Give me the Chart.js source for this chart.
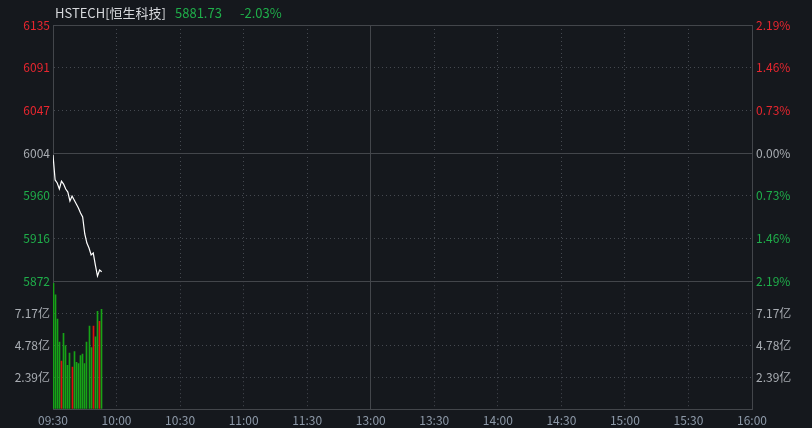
<!DOCTYPE html>
<html>
<head>
<meta charset="utf-8">
<script src="https://cdn.jsdelivr.net/npm/chart.js@4.4.1/dist/chart.umd.min.js"></script>
<style>
  html, body { margin: 0; padding: 0; background: #15181d; width: 812px; height: 428px; overflow: hidden; }
  #wrap { position: relative; width: 812px; height: 428px; }
  canvas { position: absolute; left: 0; }
  #cv-price { top: 0; }
  #cv-vol { top: 270px; }
  .hd { position: absolute; top: 3px; font-size: 13px; font-family: "Noto Sans CJK SC", sans-serif; white-space: nowrap; }
</style>
</head>
<body>
<div id="wrap">
  <canvas id="cv-price" width="812" height="300"></canvas>
  <canvas id="cv-vol" width="812" height="158"></canvas>
  <div class="hd" style="left:55px;color:#d6d8dc">HSTECH[恒生科技]</div>
  <div class="hd" style="left:175px;color:#1fae4a">5881.73</div>
  <div class="hd" style="left:240px;color:#1fae4a">-2.03%</div>
</div>
<script>
// minute index from 09:30 (lunch break 12:00-13:00 collapsed)
const TIME_TICKS = [0, 30, 60, 90, 120, 150, 180, 210, 240, 270, 300, 330];
const TIME_LABELS = ['09:30', '10:00', '10:30', '11:00', '11:30', '13:00', '13:30', '14:00', '14:30', '15:00', '15:30', '16:00'];

const PRICE_TICKS = [5872.1, 5915.9, 5959.8, 6003.6, 6047.4, 6091.3, 6135.1];
const PRICE_LABELS = ['5872', '5916', '5960', '6004', '6047', '6091', '6135'];
const PCT_LABELS = ['2.19%', '1.46%', '0.73%', '0.00%', '0.73%', '1.46%', '2.19%'];

const VOL_TICKS = [0, 2.39, 4.78, 7.17, 9.56];
const VOL_LABELS = ['', '2.39亿', '4.78亿', '7.17亿', ''];

// one point per minute, 09:30 - 09:53
const PRICES = [
  6001.5, 5975.9, 5972.8, 5966.6, 5974.8, 5971.7, 5966.6, 5963.5,
  5954.3, 5959.4, 5955.3, 5951.2, 5947.1, 5942.0, 5937.9, 5920.4,
  5911.1, 5906.0, 5898.8, 5900.9, 5888.5, 5877.2, 5883.4, 5881.7
];
// volume in 亿
const VOLUMES = [
  9.40, 8.54, 6.73, 5.00, 3.59, 5.66, 4.75, 3.27,
  4.18, 3.14, 4.30, 3.50, 3.40, 4.00, 4.10, 3.40,
  5.00, 6.20, 4.60, 6.20, 5.40, 7.30, 6.55, 7.45
];
const VOL_UP = [
  0, 0, 0, 0, 1, 0, 0, 0,
  0, 1, 0, 0, 0, 0, 0, 0,
  0, 0, 0, 1, 0, 0, 1, 0
];

const RED = '#e8262f';
const GREEN = '#1fae4a';
const GREY = '#a9adb3';
const LINE_SOLID = '#43464b';
const LINE_DOT = '#454950';
const FONT = '"Noto Sans CJK SC", sans-serif';

Chart.defaults.font.family = FONT;
Chart.defaults.font.size = 12;
Chart.defaults.animation = false;

function tickColor(i) {
  if (i < 3) return GREEN;
  if (i > 3) return RED;
  return GREY;
}

function fixWidth(w) {
  return scale => { scale.width = w; };
}

function setTicks(values) {
  return scale => { scale.ticks = values.map(v => ({ value: v })); };
}

// grid dotted except the given tick values
function dashFor(solid) {
  return ctx => (ctx.tick && !solid.includes(ctx.tick.value)) ? [1, 3] : [];
}
function colorFor(solid) {
  return ctx => (ctx.tick && solid.includes(ctx.tick.value)) ? LINE_SOLID : LINE_DOT;
}

// snap thin volume bars to whole pixels so they stay crisp
const snapBars = {
  id: 'snapBars',
  afterDatasetsUpdate(chart) {
    chart.getDatasetMeta(0).data.forEach(el => {
      el.x = Math.round(el.x - 0.5) + 0.5;
      el.width = 1;
    });
  },
};

const xSolid = [0, 150, 330];

function xScale(showLabels) {
  return {
    type: 'linear',
    min: 0,
    max: 330,
    offset: false,
    afterBuildTicks: setTicks(TIME_TICKS),
    grid: { offset: false, drawTicks: false, color: colorFor(xSolid), lineWidth: 1 },
    border: { display: showLabels, color: LINE_SOLID, dash: dashFor(xSolid) },
    ticks: {
      display: showLabels,
      padding: 4,
      color: '#8d99a8',
      maxRotation: 0,
      autoSkip: false,
      callback: (v, i) => TIME_LABELS[i],
    },
    afterFit: scale => { scale.height = showLabels ? 19 : 0; },
  };
}

const priceSolid = [PRICE_TICKS[0], PRICE_TICKS[3], PRICE_TICKS[6]];

new Chart(document.getElementById('cv-price'), {
  type: 'line',
  data: {
    datasets: [{
      data: PRICES.map((p, i) => ({ x: i, y: p })),
      borderColor: '#ffffff',
      borderWidth: 1.2,
      pointRadius: 0,
      tension: 0,
      yAxisID: 'y',
    }]
  },
  options: {
    responsive: false,
    devicePixelRatio: 1,
    layout: { padding: { top: 25, bottom: 19, left: 0, right: 0 } },
    plugins: { legend: { display: false }, tooltip: { enabled: false } },
    scales: {
      x: xScale(false),
      y: {
        position: 'left',
        min: PRICE_TICKS[0],
        max: PRICE_TICKS[6],
        afterBuildTicks: setTicks(PRICE_TICKS),
        afterFit: fixWidth(53),
        grid: { drawTicks: false, color: colorFor(priceSolid) },
        border: { color: LINE_SOLID, dash: dashFor(priceSolid) },
        ticks: {
          padding: 3,
          autoSkip: false,
          color: ctx => tickColor(ctx.index),
          callback: (v, i) => PRICE_LABELS[i],
        },
      },
      yr: {
        position: 'right',
        min: PRICE_TICKS[0],
        max: PRICE_TICKS[6],
        afterBuildTicks: setTicks(PRICE_TICKS),
        afterFit: fixWidth(60),
        grid: { drawOnChartArea: false, drawTicks: false },
        border: { color: LINE_SOLID },
        ticks: {
          padding: 4,
          autoSkip: false,
          color: ctx => tickColor(ctx.index),
          callback: (v, i) => PCT_LABELS[i],
        },
      },
    },
  },
});

const volSolid = [VOL_TICKS[0], VOL_TICKS[4]];

new Chart(document.getElementById('cv-vol'), {
  type: 'bar',
  data: {
    datasets: [{
      data: VOLUMES.map((v, i) => ({ x: i, y: v })),
      backgroundColor: VOL_UP.map(u => u ? '#e00f0f' : '#17a317'),
      barThickness: 1,
      yAxisID: 'y',
    }]
  },
  plugins: [snapBars],
  options: {
    responsive: false,
    devicePixelRatio: 1,
    layout: { padding: { top: 11, bottom: 0, left: 0, right: 0 } },
    plugins: { legend: { display: false }, tooltip: { enabled: false } },
    scales: {
      x: xScale(true),
      y: {
        position: 'left',
        min: 0,
        max: VOL_TICKS[4],
        afterBuildTicks: setTicks(VOL_TICKS),
        afterFit: fixWidth(53),
        grid: { drawTicks: false, color: colorFor(volSolid) },
        border: { color: LINE_SOLID, dash: dashFor(volSolid) },
        ticks: {
          padding: 3,
          autoSkip: false,
          color: GREY,
          callback: (v, i) => VOL_LABELS[i],
        },
      },
      yr: {
        position: 'right',
        min: 0,
        max: VOL_TICKS[4],
        afterBuildTicks: setTicks(VOL_TICKS),
        afterFit: fixWidth(60),
        grid: { drawOnChartArea: false, drawTicks: false },
        border: { color: LINE_SOLID },
        ticks: {
          padding: 4,
          autoSkip: false,
          color: GREY,
          callback: (v, i) => VOL_LABELS[i],
        },
      },
    },
  },
});
</script>
</body>
</html>
